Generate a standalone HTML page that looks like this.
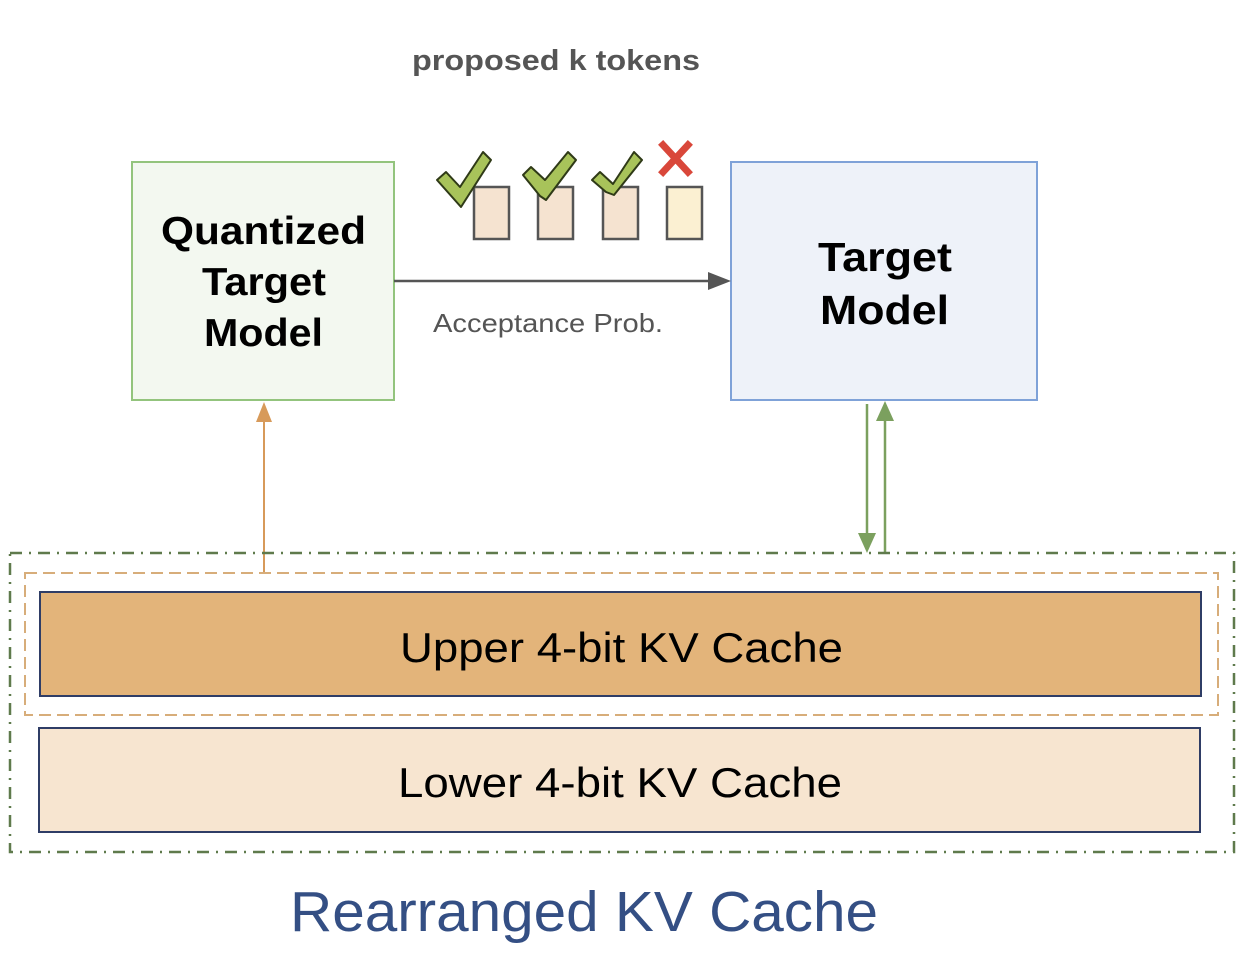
<!DOCTYPE html>
<html><head><meta charset="utf-8"><style>
html,body{margin:0;padding:0;background:#fff;}
svg{display:block;}
text{font-family:"Liberation Sans",Arial,sans-serif;}
</style></head><body>
<svg width="1246" height="956" viewBox="0 0 1246 956" xmlns="http://www.w3.org/2000/svg">
<text x="412" y="70" font-size="29" font-weight="bold" fill="#555" textLength="288" lengthAdjust="spacingAndGlyphs">proposed k tokens</text>

<rect x="132" y="162" width="262" height="238" fill="#f3f8f0" stroke="#93c47d" stroke-width="2"/>
<text x="161" y="244" font-size="39" font-weight="bold" fill="#000" textLength="205" lengthAdjust="spacingAndGlyphs">Quantized</text>
<text x="202" y="295" font-size="39" font-weight="bold" fill="#000" textLength="124" lengthAdjust="spacingAndGlyphs">Target</text>
<text x="204" y="346" font-size="39" font-weight="bold" fill="#000" textLength="119" lengthAdjust="spacingAndGlyphs">Model</text>

<rect x="731" y="162" width="306" height="238" fill="#eef2f9" stroke="#7fa2d8" stroke-width="2"/>
<text x="818" y="271" font-size="41" font-weight="bold" fill="#000" textLength="134" lengthAdjust="spacingAndGlyphs">Target</text>
<text x="820" y="324" font-size="41" font-weight="bold" fill="#000" textLength="129" lengthAdjust="spacingAndGlyphs">Model</text>

<line x1="394" y1="281" x2="712" y2="281" stroke="#555" stroke-width="2.5"/>
<polygon points="731,281 708,272 708,290" fill="#555"/>
<text x="433" y="332" font-size="26" fill="#555" textLength="230" lengthAdjust="spacingAndGlyphs">Acceptance Prob.</text>

<g stroke="#555" stroke-width="2.5">
<rect x="474" y="187" width="35" height="52" fill="#f5e3d0"/>
<rect x="538" y="187" width="35" height="52" fill="#f5e3d0"/>
<rect x="603" y="187" width="35" height="52" fill="#f5e3d0"/>
<rect x="667" y="187" width="35" height="52" fill="#fbf0d2"/>
</g>
<g fill="#a8c35a" stroke="#2f3a17" stroke-width="2" stroke-linejoin="round">
<polygon points="437,180 446,172 460,187 483,152 491,160 461,207"/>
<polygon points="523,175 531,167 545,180 568,152 576,160 546,200 540,196"/>
<polygon points="592,180 600,172 613,184 634,152 642,160 614,195 606,192"/>
</g>
<g stroke="#d9473a" stroke-width="7" stroke-linecap="square">
<line x1="663" y1="145" x2="688" y2="172"/>
<line x1="688" y1="145" x2="663" y2="172"/>
</g>

<line x1="264" y1="572" x2="264" y2="420" stroke="#d79a5a" stroke-width="2"/>
<polygon points="264,402 256,422 272,422" fill="#d79a5a"/>
<line x1="867" y1="404" x2="867" y2="535" stroke="#7ba05e" stroke-width="2.5"/>
<polygon points="867,553 858,533 876,533" fill="#7ba05e"/>
<line x1="885" y1="553" x2="885" y2="420" stroke="#7ba05e" stroke-width="2.5"/>
<polygon points="885,401 876,421 894,421" fill="#7ba05e"/>

<rect x="10" y="553" width="1224" height="299" fill="none" stroke="#5f7a4c" stroke-width="2.5" stroke-dasharray="12,7,2,7"/>
<rect x="25" y="573" width="1193" height="142" fill="none" stroke="#d7ad7a" stroke-width="2" stroke-dasharray="12,6"/>
<rect x="40" y="592" width="1161" height="104" fill="#e3b47a" stroke="#2f3d66" stroke-width="2"/>
<text x="400" y="662" font-size="42" fill="#000" textLength="443" lengthAdjust="spacingAndGlyphs">Upper 4-bit KV Cache</text>
<rect x="39" y="728" width="1161" height="104" fill="#f7e5d0" stroke="#2f3d66" stroke-width="2"/>
<text x="398" y="797" font-size="42" fill="#000" textLength="444" lengthAdjust="spacingAndGlyphs">Lower 4-bit KV Cache</text>

<text x="290" y="931" font-size="57" fill="#344f84" textLength="588" lengthAdjust="spacingAndGlyphs">Rearranged KV Cache</text>
</svg>
</body></html>
